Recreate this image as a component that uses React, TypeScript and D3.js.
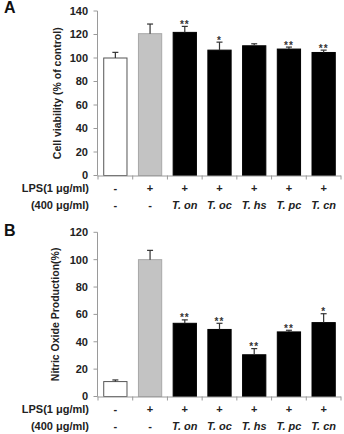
import React from "react";
import * as d3 from "d3";

const groups = ["ctrl", "lps", "on", "oc", "hs", "pc", "cn"];
const lpsRow = ["-", "+", "+", "+", "+", "+", "+"];
const extractRow = ["-", "-", "T. on", "T. oc", "T. hs", "T. pc", "T. cn"];
const barFills = ["#ffffff", "#c3c3c3", "#000000", "#000000", "#000000", "#000000", "#000000"];

const viability = [100, 120.7, 121.8, 106.7, 110.4, 107.6, 104.7];
const viabilityErr = [4.8, 8.2, 5.1, 6.8, 1.7, 1.7, 2.0];
const viabilityStars = ["", "", "**", "*", "", "**", "**"];
const viabilityTicks = [0, 20, 40, 60, 80, 100, 120, 140];

const nitric = [10.9, 100, 53.5, 49, 30.5, 47.2, 54];
const nitricErr = [1.2, 6.8, 2.5, 4.5, 4.5, 1.2, 6.5];
const nitricStars = ["", "", "**", "**", "**", "**", "*"];
const nitricTicks = [0, 20, 40, 60, 80, 100, 120];

const font = "'Liberation Sans', Arial, sans-serif";
const axisColor = "#9a9a9a";
const textColor = "#222";

function Panel({ letter, letterY, values, errors, stars, ticks, yMax, yTop, yBottom, title, titleX, titleSize }) {
  const x = d3.scaleBand().domain(groups).range([98, 341]).paddingInner(0.33).paddingOuter(0.165);
  const y = d3.scaleLinear().domain([0, yMax]).range([yBottom, yTop]);
  const step = x.step();
  const r0 = x.range()[0];
  const boundaries = d3.range(groups.length + 1).map((i) => r0 + i * step);

  return (
    <g>
      <text x={4} y={letterY} fontSize={16} fontWeight="bold" fill="#111" fontFamily={font}>
        {letter}
      </text>
      <text
        transform={`translate(${titleX},${(yTop + yBottom) / 2}) rotate(-90)`}
        textAnchor="middle"
        fontSize={titleSize}
        fontWeight="bold"
        fill={textColor}
        fontFamily={font}
      >
        {title}
      </text>

      {/* y axis */}
      <line x1={97.5} x2={97.5} y1={yTop} y2={yBottom} stroke={axisColor} />
      {ticks.map((t) => (
        <g key={t} transform={`translate(0,${y(t)})`}>
          <line x1={93.5} x2={97.5} stroke={axisColor} />
          <text x={88} dy="0.36em" textAnchor="end" fontSize={11} fontWeight="bold" fill={textColor} fontFamily={font}>
            {t}
          </text>
        </g>
      ))}

      {/* bars */}
      {groups.map((g, i) => {
        const bx = x(g);
        const cx = bx + x.bandwidth() / 2;
        const top = y(values[i]);
        const errTop = y(values[i] + errors[i]);
        return (
          <g key={g}>
            <rect
              x={bx}
              y={top}
              width={x.bandwidth()}
              height={yBottom - top}
              fill={barFills[i]}
              stroke={i === 0 ? "#555" : i === 1 ? "#a8a8a8" : "#000"}
              strokeWidth={1}
            />
            <line x1={cx} x2={cx} y1={top} y2={errTop} stroke="#333" strokeWidth={1.2} />
            <line x1={cx - 3} x2={cx + 3} y1={errTop} y2={errTop} stroke="#333" strokeWidth={1.2} />
            {stars[i] && (
              <text x={cx} y={errTop + 1.5} textAnchor="middle" fontSize={10} fontWeight="bold" letterSpacing={1} fill="#333" fontFamily={font}>
                {stars[i]}
              </text>
            )}
          </g>
        );
      })}

      {/* x axis */}
      <line x1={97.5} x2={341} y1={yBottom + 0.5} y2={yBottom + 0.5} stroke={axisColor} />
      {boundaries.map((b, i) => (
        <line key={i} x1={b} x2={b} y1={yBottom} y2={yBottom + 4} stroke={axisColor} />
      ))}

      {/* treatment rows */}
      <text x={89} y={yBottom + 16} textAnchor="end" fontSize={11} fontWeight="bold" fill={textColor} fontFamily={font}>
        LPS(1 μg/ml)
      </text>
      <text x={89} y={yBottom + 33} textAnchor="end" fontSize={11} fontWeight="bold" fill={textColor} fontFamily={font}>
        (400 μg/ml)
      </text>
      {groups.map((g, i) => {
        const cx = x(g) + x.bandwidth() / 2;
        return (
          <g key={g}>
            <text x={cx} y={yBottom + 16} textAnchor="middle" fontSize={11} fontWeight="bold" fill={textColor} fontFamily={font}>
              {lpsRow[i]}
            </text>
            <text
              x={cx}
              y={yBottom + 33}
              textAnchor="middle"
              fontSize={11}
              fontWeight="bold"
              fontStyle={extractRow[i] === "-" ? "normal" : "italic"}
              fill={textColor}
              fontFamily={font}
            >
              {extractRow[i]}
            </text>
          </g>
        );
      })}
    </g>
  );
}

export default function App() {
  return (
    <svg width={344} height={434} style={{ position: "absolute", left: 0, top: 0, background: "#fff" }}>
      <Panel
        letter="A"
        letterY={13}
        values={viability}
        errors={viabilityErr}
        stars={viabilityStars}
        ticks={viabilityTicks}
        yMax={140}
        yTop={11}
        yBottom={175.5}
        title="Cell viability (% of control)"
        titleX={61}
        titleSize={10.5}
      />
      <Panel
        letter="B"
        letterY={236}
        values={nitric}
        errors={nitricErr}
        stars={nitricStars}
        ticks={nitricTicks}
        yMax={120}
        yTop={232.3}
        yBottom={396.5}
        title="Nitric Oxide Production(%)"
        titleX={59}
        titleSize={10.5}
      />
    </svg>
  );
}
